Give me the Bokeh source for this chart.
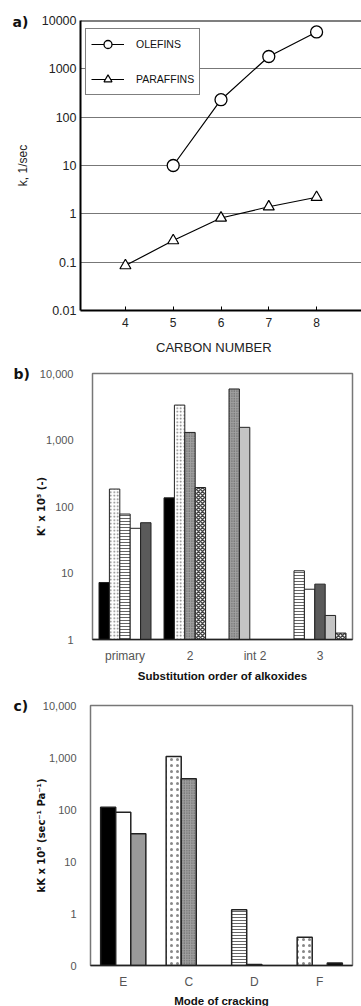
import math
from bokeh.plotting import figure
from bokeh.models import (FixedTicker, NumeralTickFormatter, Span, Range1d, LinearAxis, Title)
from bokeh.embed import file_html
from bokeh.resources import INLINE

# ---------------- data ----------------
# panel a
olefins_carbon = [5, 6, 7, 8]
olefins_k = [10, 230, 1800, 5800]
paraffins_carbon = [4, 5, 6, 7, 8]
paraffins_k = [0.085, 0.28, 0.82, 1.4, 2.2]
a_ticks_y = [0.01, 0.1, 1, 10, 100, 1000, 10000]
a_ticks_x = [4, 5, 6, 7, 8]

# panel b
b_categories = ["primary", "2", "int 2", "3"]
b_primary = [7.2, 183, 77, 47, 57]
b_secondary = [135, 3350, 1300, 193]
b_int2 = [5850, 1550]
b_tertiary = [10.8, 5.7, 6.8, 2.3, 1.25]
b_ticks_y = [1, 10, 100, 1000, 10000]

# panel c
c_categories = ["E", "C", "D", "F"]
c_E = [110, 89, 34]
c_C = [1050, 390, None]
c_D = [1.18, 0.105, None]
c_F = [0.35, None, 0.112]
c_ticks_y = [0.1, 1, 10, 100, 1000, 10000]

# ---------------- styles ----------------
STY = {
    "black": dict(fill_color="black"),
    "dots": dict(fill_color="white", hatch_pattern="dot", hatch_color="#777777", hatch_scale=3.5, hatch_weight=1),
    "hlines": dict(fill_color="white", hatch_pattern="horizontal_line", hatch_color="#666666", hatch_scale=3, hatch_weight=1),
    "white": dict(fill_color="white"),
    "dark": dict(fill_color="#5a5a5a"),
    "stipple": dict(fill_color="#a0a0a0", hatch_pattern="dot", hatch_color="#555555", hatch_scale=2.5, hatch_weight=0.8),
    "checker": dict(fill_color="white", hatch_pattern="diagonal_cross", hatch_color="#444444", hatch_scale=4, hatch_weight=1.5),
    "light": dict(fill_color="#c4c4c4"),
    "gray": dict(fill_color="#9a9a9a"),
    "bigdots": dict(fill_color="white", hatch_pattern="dot", hatch_color="#888888", hatch_scale=6, hatch_weight=1.3),
}
b_styles = [
    ["black", "dots", "hlines", "white", "dark"],
    ["black", "dots", "stipple", "checker"],
    ["stipple", "light"],
    ["hlines", "white", "dark", "light", "checker"],
]
c_styles = [
    ["black", "white", "gray"],
    ["bigdots", "stipple", None],
    ["hlines", "white", None],
    ["bigdots", None, "black"],
]

FONT = "Liberation Sans"
SUPFONT = "DejaVu Sans"


def letter(text, left, standoff):
    return Title(text=text, align="left", offset=-(left - 13), standoff=standoff,
                 vertical_align="bottom", text_font=SUPFONT, text_font_size="14px",
                 text_font_style="bold", text_color="#111111")


# ---------------- panel a ----------------
p1 = figure(frame_width=281, frame_height=290, y_axis_type="log", output_backend="svg",
            toolbar_location=None, x_range=Range1d(3.06, 8.94), y_range=Range1d(0.01, 10000),
            min_border_left=80, min_border_right=0, min_border_top=20, min_border_bottom=42)
p1.outline_line_color = None
p1.xgrid.grid_line_color = None
p1.ygrid.grid_line_color = "#777777"
p1.ygrid.grid_line_width = 1
p1.yaxis.ticker = FixedTicker(ticks=a_ticks_y, minor_ticks=[])
p1.xaxis.ticker = FixedTicker(ticks=a_ticks_x, minor_ticks=[])
p1.ygrid.ticker = FixedTicker(ticks=a_ticks_y, minor_ticks=[])
p1.yaxis.formatter = NumeralTickFormatter(format="0.[00]")
for ax in (p1.xaxis, p1.yaxis):
    ax.axis_line_width = 2
    ax.axis_line_color = "black"
    ax.major_label_text_font = FONT
    ax.major_label_text_color = "#222222"
    ax.minor_tick_line_color = None
p1.yaxis.major_label_text_font_size = "12.5px"
p1.xaxis.major_label_text_font_size = "12px"
p1.yaxis.major_tick_out = 0
p1.yaxis.major_tick_in = 0
p1.yaxis.major_label_standoff = 4
p1.xaxis.major_tick_out = 0
p1.xaxis.major_tick_in = 4
p1.xaxis.major_label_standoff = 7
p1.yaxis.axis_label = "k, 1/sec"
p1.yaxis.axis_label_text_font = FONT
p1.yaxis.axis_label_text_font_size = "12px"
p1.yaxis.axis_label_text_font_style = "normal"
p1.yaxis.axis_label_text_color = "#222222"
p1.yaxis.axis_label_standoff = 9
p1.add_layout(Span(location=10000, dimension="width", line_color="black", line_width=2))

# second bottom axis carrying the x title (placed off-centre as in the reference)
xt = LinearAxis(ticker=FixedTicker(ticks=[5.85], minor_ticks=[]),
                major_label_overrides={5.85: "CARBON NUMBER"})
xt.axis_line_color = None
xt.major_tick_line_color = None
xt.minor_tick_line_color = None
xt.major_label_standoff = 4
xt.major_label_text_font = FONT
xt.major_label_text_font_size = "13px"
xt.major_label_text_color = "#222222"
p1.add_layout(xt, "below")

p1.line(olefins_carbon, olefins_k, line_color="black", line_width=1.2, legend_label="OLEFINS")
p1.scatter(olefins_carbon, olefins_k, marker="circle", size=12, fill_color="white",
           line_color="black", line_width=1.3, legend_label="OLEFINS")
p1.line(paraffins_carbon, paraffins_k, line_color="black", line_width=1.2, legend_label="PARAFFINS")
p1.scatter(paraffins_carbon, paraffins_k, marker="triangle", size=11, fill_color="white",
           line_color="black", line_width=1.2, legend_label="PARAFFINS")
lg = p1.legend[0]
lg.location = (5, 215)
lg.padding = 5
lg.spacing = 15
lg.glyph_width = 33
lg.glyph_height = 20
lg.label_height = 20
lg.label_standoff = 12
lg.label_text_font = FONT
lg.label_text_font_size = "10.5px"
lg.label_text_font_style = "normal"
lg.label_text_color = "#111111"
lg.border_line_color = "black"
lg.border_line_width = 1.5
lg.background_fill_alpha = 1

p1.add_layout(letter("a)", 80 + 1, -18), "above")


# ---------------- bar panels ----------------
def bar_panel(fw, fh, top, bottom, left, right, ymin, ticks, cats, groups, styles,
              nslots, slot_w, ylabel, xlabel, line_w, lab_standoff, ylab_standoff,
              xlab_standoff):
    p = figure(frame_width=fw, frame_height=fh, y_axis_type="log", output_backend="svg",
               toolbar_location=None, x_range=Range1d(-0.5, len(cats) - 0.5),
               y_range=Range1d(ymin, 10000),
               min_border_left=left, min_border_right=right,
               min_border_top=top, min_border_bottom=bottom)
    p.outline_line_color = "#777777"
    p.outline_line_width = 1.5
    p.grid.grid_line_color = None
    p.yaxis.ticker = FixedTicker(ticks=ticks, minor_ticks=[])
    p.yaxis.formatter = NumeralTickFormatter(format="0,0")
    p.xaxis.ticker = FixedTicker(ticks=list(range(len(cats))), minor_ticks=[])
    p.xaxis.major_label_overrides = {i: c for i, c in enumerate(cats)}
    for ax in (p.xaxis, p.yaxis):
        ax.major_tick_out = 0
        ax.major_tick_in = 0
        ax.minor_tick_line_color = None
        ax.major_label_text_font = FONT
        ax.major_label_text_color = "#555555"
        ax.axis_label_text_font_style = "bold"
        ax.axis_label_text_color = "#111111"
    p.yaxis.major_label_text_font_size = "11px"
    p.xaxis.major_label_text_font_size = "12px"
    p.yaxis.axis_label_text_font = SUPFONT
    p.yaxis.axis_label_text_font_size = "10px"
    p.xaxis.axis_label_text_font = FONT
    p.xaxis.axis_label_text_font_size = "11.5px"
    p.yaxis.axis_line_color = None
    p.xaxis.axis_line_color = "#222222"
    p.xaxis.axis_line_width = 1.5
    p.yaxis.major_label_standoff = lab_standoff
    p.xaxis.major_label_standoff = 9
    p.yaxis.axis_label = ylabel
    p.yaxis.axis_label_standoff = ylab_standoff
    p.xaxis.axis_label = xlabel
    p.xaxis.axis_label_standoff = xlab_standoff
    for gi, (vals, sts) in enumerate(zip(groups, styles)):
        for j, (v, s) in enumerate(zip(vals, sts)):
            if v is None or s is None:
                continue
            xpos = gi + (j - (nslots - 1) / 2) * slot_w
            p.vbar(x=[xpos], top=[v], bottom=ymin, width=slot_w,
                   line_color="#222222", line_width=line_w, **STY[s])
    return p


# top borders are trimmed to absorb the small gap the page puts between the roots
p2 = bar_panel(260, 266, 16, 41, 92, 9, 1, b_ticks_y, b_categories,
               [b_primary, b_secondary, b_int2, b_tertiary], b_styles,
               5, 0.16, "K' x 10\u2075 (-)", "Substitution order of alkoxides", 1, 19, -10, 4)
p2.add_layout(letter("b)", 92, -17), "above")
p3 = bar_panel(262, 260, 21, 40, 90, 9, 0.1, c_ticks_y, c_categories,
               [c_E, c_C, c_D, c_F], c_styles,
               3, 0.23, "kK x 10\u2075 (sec\u207b\u00b9 Pa\u207b\u00b9)", "Mode of cracking", 1.5, 14, -7, 3)
p3.add_layout(letter("c)", 90, -17), "above")

# independent roots so that the three frames are not aligned with each other
open("out.html", "w").write(file_html([p1, p2, p3], INLINE))
